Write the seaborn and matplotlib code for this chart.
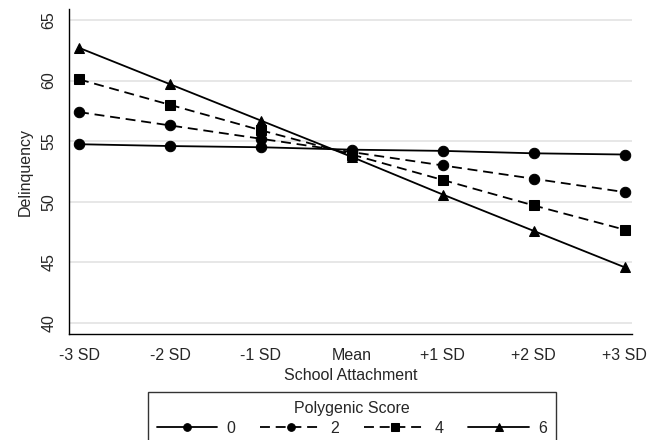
import matplotlib
matplotlib.use("Agg")
import matplotlib.pyplot as plt
import seaborn as sns
import pandas as pd
import numpy as np

x_labels = ["-3 SD", "-2 SD", "-1 SD", "Mean", "+1 SD", "+2 SD", "+3 SD"]
x_pos = [-3, -2, -1, 0, 1, 2, 3]
score_0 = [54.75, 54.6, 54.5, 54.3, 54.2, 54.0, 53.9]
score_2 = [57.4, 56.3, 55.2, 54.1, 53.0, 51.9, 50.8]
score_4 = [60.1, 58.0, 55.9, 53.9, 51.8, 49.7, 47.7]
score_6 = [62.7, 59.7, 56.7, 53.7, 50.6, 47.6, 44.6]
scores = ["0", "2", "4", "6"]

rows = []
for s, vals in zip(scores, [score_0, score_2, score_4, score_6]):
    for xp, v in zip(x_pos, vals):
        rows.append({"x": xp, "y": v, "score": s})
df = pd.DataFrame(rows)

sns.set_style("white")
plt.rcParams['font.family'] = ['Liberation Sans', 'DejaVu Sans']

FS = 11.5
fig = plt.figure(figsize=(6.59, 4.40), dpi=100)
ax = fig.add_axes([69/659, 1-334/440, (632-69)/659, (334-9)/440])

markers = {"0": "o", "2": "o", "4": "s", "6": "^"}
dashes = {"0": "", "2": (5.5, 3.2), "4": (5.5, 3.2), "6": ""}
palette = {s: "black" for s in scores}
sns.lineplot(data=df, x="x", y="y", hue="score", style="score",
             markers=markers, dashes=dashes, palette=palette,
             markersize=7.5, linewidth=1.3, markeredgecolor="black", ax=ax)

ax.set_xlim(-3.11, 3.08)
ax.set_ylim(39.1, 65.9)
ax.set_xticks(x_pos)
ax.set_xticklabels(x_labels, fontsize=FS)
ax.set_yticks([40, 45, 50, 55, 60, 65])
ax.set_yticklabels(["40", "45", "50", "55", "60", "65"], fontsize=FS, rotation=90, va="center")
ax.set_xlabel("School Attachment", fontsize=FS, labelpad=4)
ax.set_ylabel("Delinquency", fontsize=FS, labelpad=6)
ax.yaxis.grid(True, color="#e3e3e3", linewidth=1.2)
ax.set_axisbelow(True)
for side in ["top", "right"]:
    ax.spines[side].set_visible(False)
for side in ["left", "bottom"]:
    ax.spines[side].set_color("black")
    ax.spines[side].set_linewidth(1.0)
ax.tick_params(axis="x", direction="out", length=5, width=1, color="black", pad=5)
ax.tick_params(axis="y", direction="out", length=5, width=1, color="black", pad=4)

handles, labels = ax.get_legend_handles_labels()
ax.get_legend().remove()
leg = fig.legend(handles, labels, title="Polygenic Score", ncol=4,
                 loc="upper center", bbox_to_anchor=(352/659, 1-384/440),
                 frameon=True, fancybox=False, edgecolor="black",
                 fontsize=FS, title_fontsize=FS, handlelength=3.8,
                 columnspacing=1.55, handletextpad=0.6, borderpad=0.55,
                 labelspacing=0.3)
leg.get_frame().set_linewidth(1.0)
for h in leg.legend_handles:
    h.set_markersize(5.5)

fig.savefig("out.png", dpi=100)
